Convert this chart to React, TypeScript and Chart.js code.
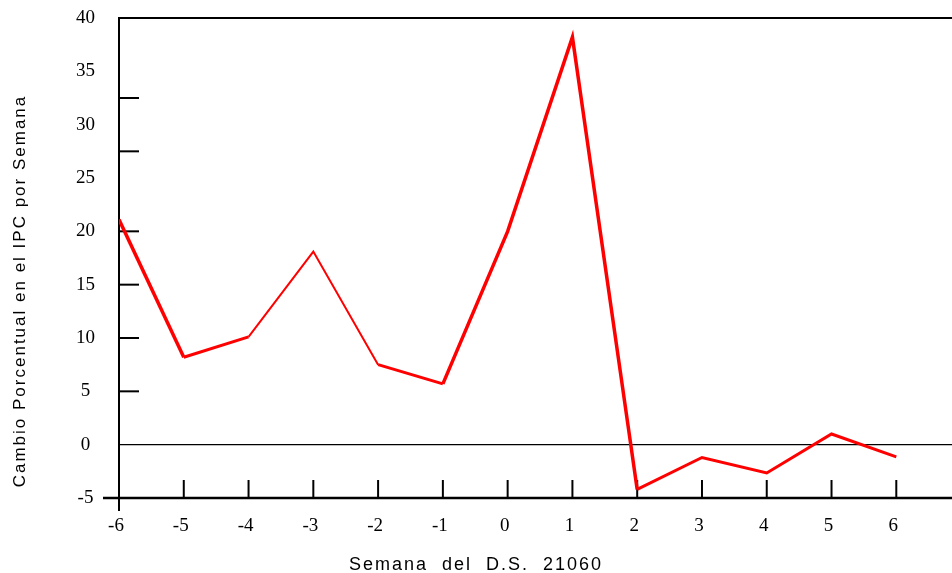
import React, { useEffect, useRef } from 'react';
import { Chart, registerables } from 'chart.js';

Chart.register(...registerables);

// ---- data ----
const weeks = [-6, -5, -4, -3, -2, -1, 0, 1, 2, 3, 4, 5, 6];
const ipcChange = [21.1, 8.2, 10.1, 18.1, 7.5, 5.7, 20.0, 38.2, -4.2, -1.2, -2.65, 1.0, -1.15];
const segmentWidths = [3.5, 3, 2, 2, 3, 3.5, 3.5, 3.5, 3, 3, 3, 3];
const yTickLabels = [-5, 0, 5, 10, 15, 20, 25, 30, 35, 40];
const yTickMarks = [32.5, 27.5, 20, 15, 10, 5];
const xTickMarks = [-5, -4, -3, -2, -1, 0, 1, 2, 3, 4, 5, 6];
const xTitle = 'Semana  del  D.S.  21060';
const yTitle = 'Cambio Porcentual en el IPC por Semana';

const serif = "'Liberation Serif', 'Times New Roman', serif";
const sans = "'Liberation Sans', Arial, sans-serif";

const framePlugin = {
  id: 'frame',
  beforeDatasetsDraw(chart: any) {
    const { ctx, chartArea: a, scales } = chart;
    const x = scales.x;
    const y = scales.y;
    ctx.save();
    ctx.strokeStyle = '#000';
    ctx.lineCap = 'butt';
    const line = (x1: number, y1: number, x2: number, y2: number, w: number) => {
      ctx.lineWidth = w;
      ctx.beginPath();
      ctx.moveTo(x1, y1);
      ctx.lineTo(x2, y2);
      ctx.stroke();
    };
    line(a.left - 1, a.top, a.right, a.top, 2);
    line(a.left, a.top, a.left, a.bottom + 13, 2);
    line(a.left - 16, a.bottom, a.right, a.bottom, 2.5);
    const z = y.getPixelForValue(0);
    line(a.left, z, a.right, z, 1.2);
    yTickMarks.forEach((v) => {
      const p = y.getPixelForValue(v);
      line(a.left, p, a.left + 20, p, 2);
    });
    xTickMarks.forEach((v) => {
      const p = x.getPixelForValue(v);
      line(p, a.bottom, p, a.bottom - 18, 2);
    });
    ctx.restore();
  },
  afterDraw(chart: any) {
    const { ctx } = chart;
    ctx.save();
    ctx.fillStyle = '#000';
    ctx.font = `18px ${sans}`;
    (ctx as any).letterSpacing = '2px';
    ctx.textAlign = 'center';
    ctx.textBaseline = 'alphabetic';
    ctx.fillText(xTitle, 476, 570);
    ctx.font = `17px ${sans}`;
    ctx.translate(20, 291);
    ctx.rotate(-Math.PI / 2);
    ctx.textBaseline = 'middle';
    ctx.fillText(yTitle, 0, 0);
    ctx.restore();
  },
};

export default function App() {
  const canvasRef = useRef<HTMLCanvasElement | null>(null);

  useEffect(() => {
    document.body.style.margin = '0';
    const canvas = canvasRef.current;
    if (!canvas) return;
    const chart = new Chart(canvas, {
      type: 'line',
      data: {
        datasets: [
          {
            data: weeks.map((w, i) => ({ x: w, y: ipcChange[i] })),
            borderColor: '#ff0000',
            borderWidth: 3,
            pointRadius: 0,
            tension: 0,
            fill: false,
            segment: {
              borderWidth: (c: any) => segmentWidths[c.p0DataIndex],
            },
          },
        ],
      },
      options: {
        animation: false,
        responsive: false,
        devicePixelRatio: 1,
        layout: { padding: { top: 18, right: 0, left: 0, bottom: 0 } },
        plugins: {
          legend: { display: false },
          tooltip: { enabled: false },
          title: { display: false },
        },
        scales: {
          x: {
            type: 'linear',
            min: -6,
            max: 6.86,
            grid: { display: false, drawTicks: false },
            border: { display: false },
            afterBuildTicks: (s: any) => {
              s.ticks = weeks.map((v) => ({ value: v }));
            },
            afterFit: (s: any) => {
              s.height = 75;
              s.paddingLeft = 0;
              s.paddingRight = 0;
            },
            ticks: {
              color: '#000',
              font: { family: serif, size: 19 },
              padding: 17,
              labelOffset: -3,
              maxRotation: 0,
              autoSkip: false,
            },
          },
          y: {
            type: 'linear',
            min: -5,
            max: 40,
            grid: { display: false, drawTicks: false },
            border: { display: false },
            afterBuildTicks: (s: any) => {
              s.ticks = yTickLabels.map((v) => ({ value: v }));
            },
            afterFit: (s: any) => {
              s.width = 119;
              s.paddingTop = 0;
              s.paddingBottom = 0;
            },
            ticks: {
              color: '#000',
              font: { family: serif, size: 19 },
              padding: 24,
              crossAlign: 'center',
              autoSkip: false,
            },
          },
        },
      },
      plugins: [framePlugin],
    } as any);
    return () => chart.destroy();
  }, []);

  return (
    <div style={{ width: 952, height: 573 }}>
      <canvas ref={canvasRef} width={952} height={573} style={{ display: 'block' }} />
    </div>
  );
}
